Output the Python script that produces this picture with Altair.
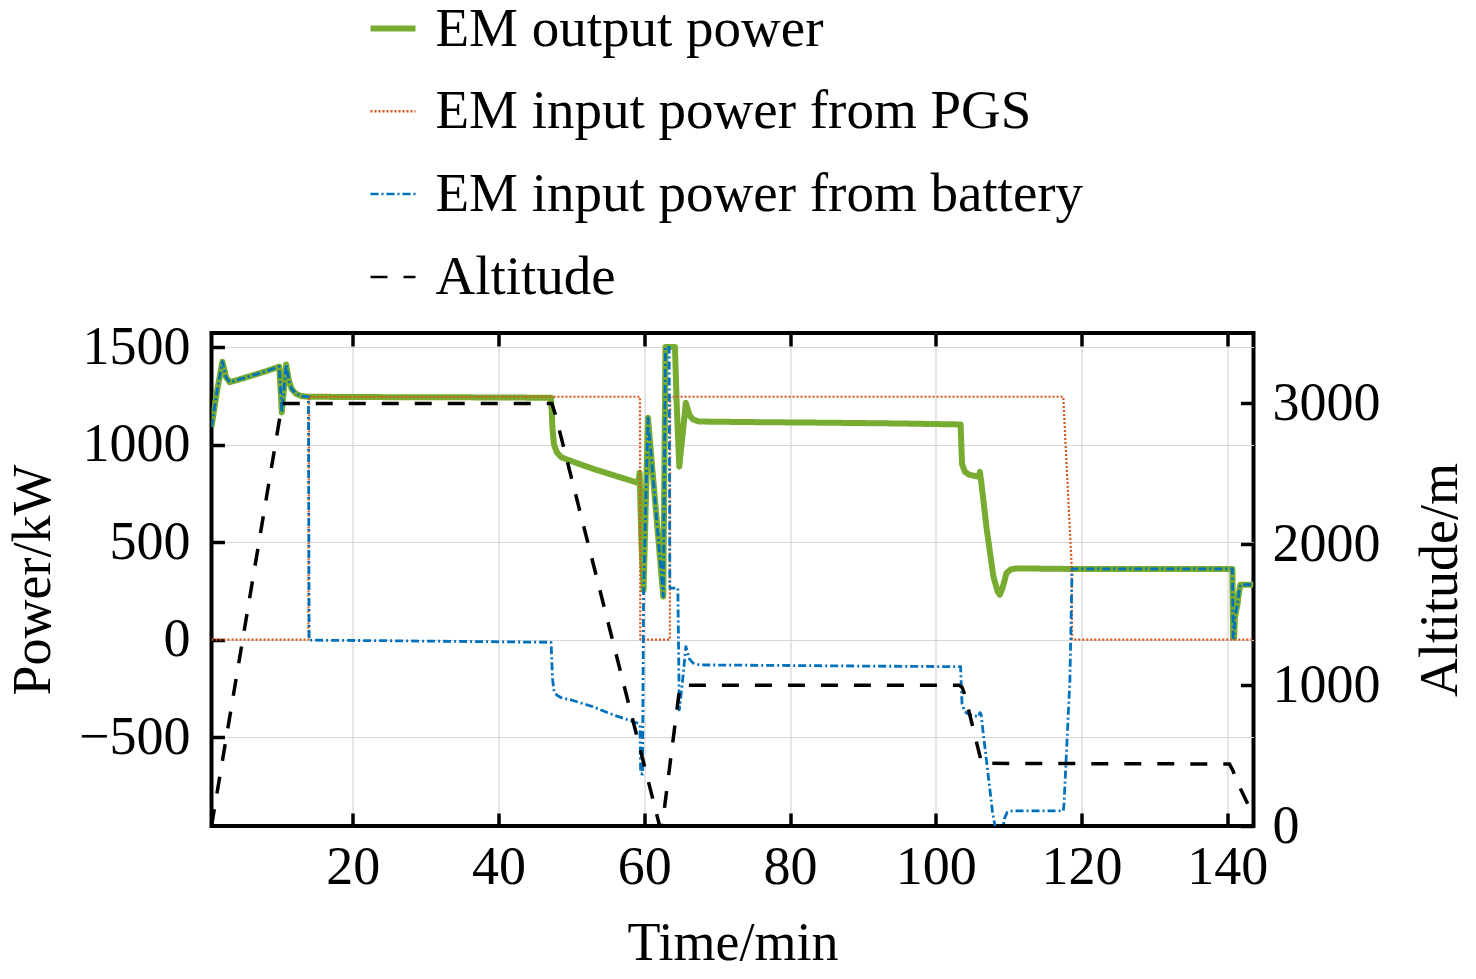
import altair as alt
import pandas as pd

NAMES = ["EM output power", "EM input power from PGS", "EM input power from battery", "Altitude"]
COLORS = ["#77AC30", "#D95319", "#0072BD", "#000000"]
DASHES = [[1, 0], [2, 2], [8, 3, 2, 3], [17, 16]]

X_TICKS = [20, 40, 60, 80, 100, 120, 140]
P_TICKS = [-500, 0, 500, 1000, 1500]
A_TICKS = [0, 1000, 2000, 3000]

# EM output power (kW)
t_out = [0.6, 1.3, 2.1, 2.6, 3.1, 4.5, 6.0, 8.0, 9.9, 10.25, 10.85, 11.2, 11.6, 12.2, 13.0,
         14.0, 25.0, 36.0, 47.2, 47.4, 47.6, 48.0, 48.6, 50.0, 53.0, 56.0, 59.2, 59.35, 59.6,
         59.9, 60.5, 62.6, 62.9, 64.2, 64.45, 64.8, 65.7, 66.2, 66.7, 67.5, 75.0, 85.0, 95.0,
         103.4, 103.6, 104.0, 104.6, 105.5, 105.9, 106.05, 106.2, 107.0, 107.9, 108.5, 108.8,
         109.2, 109.7, 110.3, 111.1, 118.7, 130.0, 140.7, 140.8, 140.95, 141.05, 141.4, 141.6,
         141.8, 143.6]
p_out = [1090, 1260, 1425, 1345, 1320, 1335, 1352, 1375, 1400, 1165, 1410, 1330, 1285, 1260, 1248,
         1245, 1243, 1242, 1240, 1080, 1000, 960, 935, 915, 875, 840, 803, 855, 500,
         255, 1137, 221, 1500, 1500, 1200, 888, 1214, 1150, 1128, 1118, 1115, 1112, 1108,
         1103, 900, 860, 845, 838, 835, 860, 820, 563, 324, 245, 230,
         270, 341, 360, 365, 362, 362, 362, 10, 10, 115, 180, 240,
         281, 281]

# EM input power from PGS (kW)
t_pgs = [0.6, 13.9, 14.0, 59.4, 59.45, 63.5, 63.55, 117.5, 117.6, 118.65, 118.7, 143.6]
p_pgs = [0, 0, 1245, 1245, 0, 0, 1245, 1245, 1160, 375, 0, 0]

# EM input power from battery (kW)
t_bat = [0.6, 1.3, 2.1, 2.6, 3.1, 4.5, 6.0, 8.0, 9.9, 10.25, 10.85, 11.2, 11.6, 12.2, 13.0,
         13.9, 14.0, 25.0, 36.0, 47.2, 47.4, 47.6, 48.0, 48.6, 50.0, 53.0, 56.0, 59.2, 59.4, 59.5,
         59.75, 59.9, 60.5, 62.6, 62.9, 63.4, 63.5, 64.6, 64.8, 65.2, 65.7, 66.2, 66.7, 67.6, 80.0,
         90.0, 103.4, 103.6, 104.0, 104.6, 105.5, 105.9, 106.05, 106.2, 107.0, 107.8, 108.3, 109.1,
         109.4, 109.8, 110.5, 117.5, 117.6, 118.4, 118.7, 130.0, 140.7, 140.8, 140.95, 141.05,
         141.4, 141.6, 141.8, 143.6]
p_bat = [1090, 1260, 1425, 1345, 1320, 1335, 1352, 1375, 1400, 1165, 1410, 1330, 1285, 1260, 1248,
         1245, -3, -6, -10, -14, -200, -265, -285, -298, -310, -345, -390, -430, -440, -686,
         -690, 255, 1137, 221, 1500, 1500, 264, 264, -361, -230, -36, -100, -121, -130, -133,
         -136, -139, -330, -370, -385, -392, -395, -375, -380, -635, -890, -990, -990,
         -920, -885, -878, -878, -840, -210, 362, 362, 362, 10, 10, 115,
         180, 240, 281, 281]

# Altitude (m)
t_alt = [0.6, 10.3, 47.3, 47.8, 62.1, 62.45, 64.7, 65.0, 103.2, 103.6, 104.0, 106.3, 140.3, 140.8, 141.3, 143.6]
a_alt = [0, 3000, 3000, 2920, 0, 0, 920, 1000, 1000, 985, 930, 445, 440, 390, 320, 70]

df_out = pd.DataFrame({"t": t_out, "v": p_out, "series": NAMES[0]})
df_pgs = pd.DataFrame({"t": t_pgs, "v": p_pgs, "series": NAMES[1]})
df_bat = pd.DataFrame({"t": t_bat, "v": p_bat, "series": NAMES[2]})
df_alt = pd.DataFrame({"t": t_alt, "v": a_alt, "series": NAMES[3]})

FONT = "Liberation Serif"
TICK = alt.ExprRef(expr="-13")

x_scale = alt.Scale(domain=[0.6, 143.6], nice=False, zero=False)
p_scale = alt.Scale(domain=[-956, 1572], nice=False, zero=False)
a_scale = alt.Scale(domain=[0, 3500], nice=False, zero=False)
c_scale = alt.Scale(domain=NAMES, range=COLORS)
d_scale = alt.Scale(domain=NAMES, range=DASHES)

legend = alt.Legend(
    orient="none", legendX=154, legendY=-332, title=None,
    labelFont=FONT, labelFontSize=55, labelColor="black", labelLimit=0,
    labelOffset=15, rowPadding=26.8, symbolType="stroke", symbolSize=2025,
    symbolStrokeWidth=alt.ExprRef(expr="datum.value === 'EM output power' ? 6 : 2.5"),
    direction="vertical",
)

x_bottom = alt.Axis(values=X_TICKS, format="d", title="Time/min", grid=True,
                    labelPadding=27, labelFlush=False, labelOverlap=False,
                    titleX=521, titleY=133, titleBaseline="alphabetic", titleAlign="center")
x_top = alt.Axis(orient="top", values=X_TICKS, labels=False, title=None, grid=False)
y_left = alt.Axis(values=P_TICKS, format="d", title="Power/kW", grid=True,
                  labelPadding=34.5, labelOverlap=False, titleAngle=270,
                  titleX=-162, titleY=246.5, titleBaseline="alphabetic", titleAlign="center")
y_right = alt.Axis(orient="right", values=A_TICKS, format="d", title="Altitude/m", grid=False,
                   labelPadding=31.5, labelOverlap=False, titleAngle=270,
                   titleX=203, titleY=246.5, titleBaseline="alphabetic", titleAlign="center")


def power_line(df, width, first=False):
    return alt.Chart(df).mark_line(clip=True, strokeJoin="round").encode(
        x=alt.X("t:Q", scale=x_scale, axis=x_bottom),
        y=alt.Y("v:Q", scale=p_scale, axis=y_left),
        color=alt.Color("series:N", scale=c_scale, legend=legend if first else None),
        strokeDash=alt.StrokeDash("series:N", scale=d_scale, legend=legend if first else None),
        strokeWidth=alt.value(width),
    )


power = alt.layer(
    power_line(df_out, 6, first=True),
    power_line(df_pgs, 2.2),
    power_line(df_bat, 2.8),
)

alt_line = alt.Chart(df_alt).mark_line(clip=True).encode(
    x=alt.X("t:Q", scale=x_scale, axis=x_top),
    y=alt.Y("v:Q", scale=a_scale, axis=y_right),
    color=alt.Color("series:N", scale=c_scale, legend=None),
    strokeDash=alt.StrokeDash("series:N", scale=d_scale, legend=None),
    strokeWidth=alt.value(3.5),
)

chart = alt.layer(power, alt_line).resolve_scale(
    y="independent"
).resolve_axis(
    x="independent"
).properties(
    width=1042, height=493,
    autosize=alt.AutoSizeParams(type="none"),
    padding={"left": 203.5, "top": 325, "right": 214, "bottom": 145},
).configure_view(
    stroke="black", strokeWidth=4
).configure_axis(
    labelFont=FONT, labelFontSize=54, labelColor="black",
    titleFont=FONT, titleFontSize=54, titleFontWeight="normal", titleColor="black",
    tickColor="black", tickWidth=3.5, tickSize=TICK, domain=False,
    gridColor="#d6d6d6", gridWidth=1.2,
)

chart.save("out.html", embed_options={"renderer": "svg", "actions": False})
